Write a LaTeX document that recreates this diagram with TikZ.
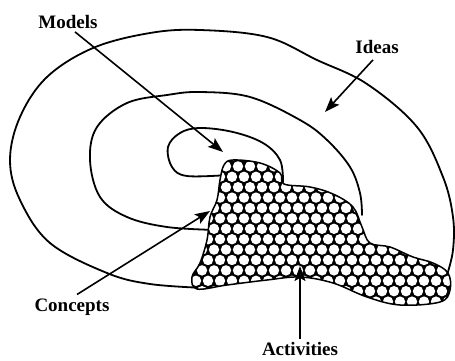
\documentclass[tikz,border=0pt]{standalone}
\usepackage{fontspec}
\setmainfont{Liberation Serif}
\usetikzlibrary{arrows.meta}

\def\blobpath{plot[smooth cycle,tension=0.6] coordinates {(224,165) (233,160) (260,163) (280,173) (284,184)
  (310,187) (333,194) (353,207) (362,227) (370,243) (390,247) (413,257) (433,263)
  (448,273) (450,290) (440,302) (400,305) (367,297) (333,283) (300,277) (267,280)
  (227,285) (197,289) (192,277) (200,263) (207,240) (210,217) (217,200) (220,180)}}

\begin{document}
\begin{tikzpicture}[x=1pt,y=-1pt,
    zone/.style={line width=1.8pt,line cap=round},
    pointer/.style={line width=1.6pt,-{Stealth[length=15pt,width=11pt,inset=3pt]}},
    lbl/.style={font=\bfseries\fontsize{19}{21}\selectfont,inner sep=1pt}]
  \useasboundingbox (0,0) rectangle (455,361);

  % outer, middle and inner regions
  \draw[zone] plot[smooth,tension=0.6] coordinates {(205,288) (150,284) (107,273) (50,243) (20,200)
    (10,160) (20,117) (47,77) (93,48) (150,33) (200,30) (267,37) (317,60) (367,84)
    (417,127) (443,177) (453,217) (453,250) (447,275)};
  \draw[zone] plot[smooth,tension=0.6] coordinates {(216,230) (167,227) (127,217) (100,197)
    (90,160) (97,127) (127,103) (167,95) (200,92) (250,97) (300,120) (327,140)
    (350,167) (360,193) (362,215)};
  \draw[zone] plot[smooth,tension=0.6] coordinates {(228,175) (187,176) (172,167) (168,147)
    (180,133) (200,128) (233,132) (263,143) (280,160) (283,182)};

  % activities: honeycomb
  \begin{scope}
    \clip \blobpath;
    \fill \blobpath;
    \foreach \r in {0,...,15}
      \foreach \c in {0,...,23}
        \fill[white] ({184+12*\c+6*mod(\r,2)},{156+10.4*\r}) circle (5.2);
  \end{scope}
  \draw[line width=1.5pt] \blobpath;

  \node[lbl] (models) at (68,22) {Models};
  \node[lbl] (ideas) at (377,47) {Ideas};
  \node[lbl] (concepts) at (72,307) {Concepts};
  \node[lbl] (activities) at (300,349) {Activities};

  \coordinate (m) at (223,152);
  \coordinate (i) at (325,112);
  \coordinate (c) at (210,211);
  \coordinate (a) at (300,266);

  \draw[pointer] ([xshift=7pt,yshift=-2pt]models.south) -- (m);
  \draw[pointer] ([xshift=-4pt,yshift=-5pt]ideas.south) -- (i);
  \draw[pointer] ([xshift=5pt,yshift=3pt]concepts.north) -- (c);
  \draw[pointer] ([yshift=2pt]activities.north) -- (a);
\end{tikzpicture}
\end{document}
